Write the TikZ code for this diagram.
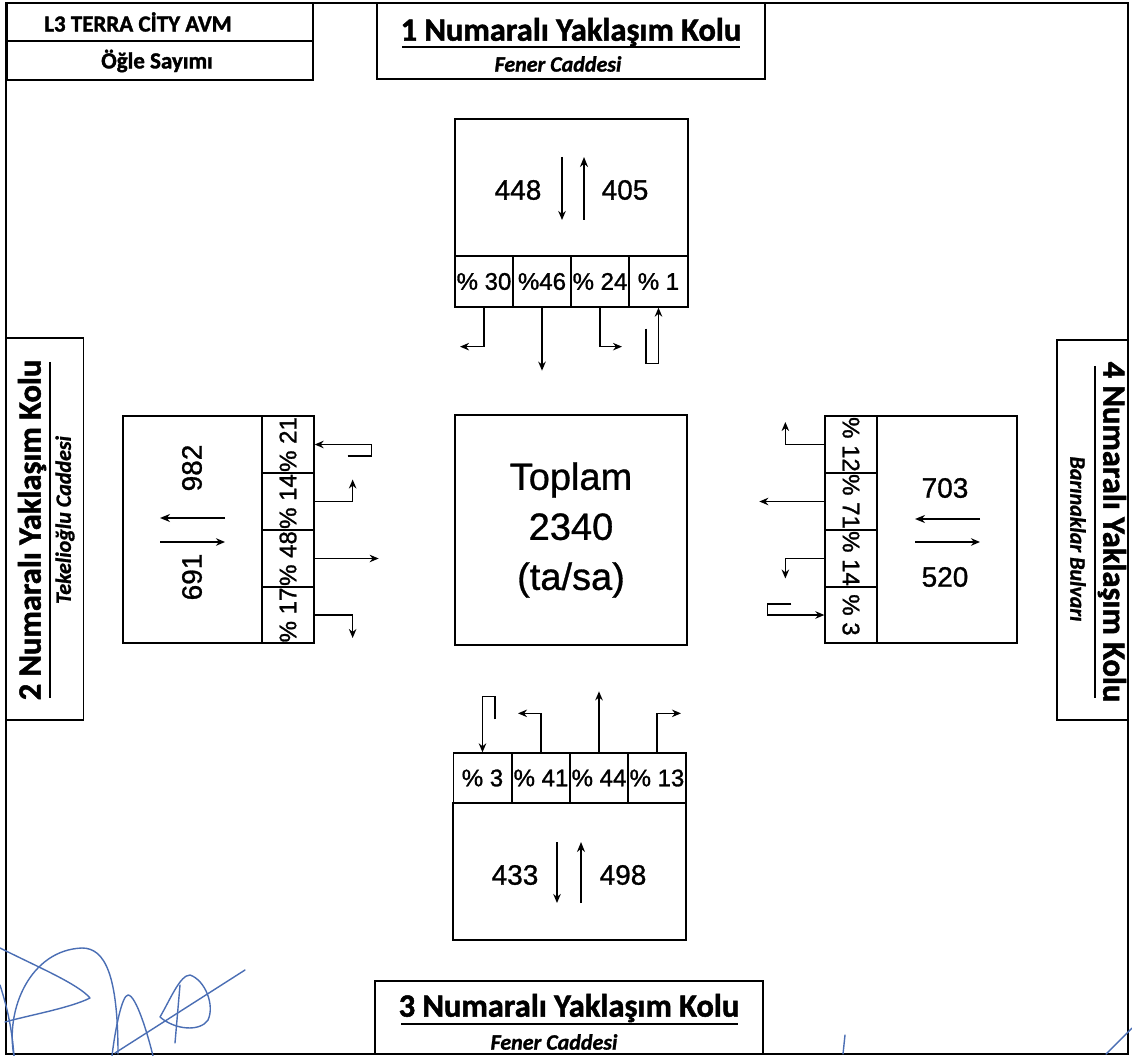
\documentclass[tikz,border=0pt]{standalone}
\usepackage{fontspec}
\setmainfont{Liberation Sans}
\newfontfamily\calib{Carlito}
\usetikzlibrary{arrows.meta}
\definecolor{sigblue}{HTML}{4A6EB4}
\begin{document}
\begin{tikzpicture}[x=1pt,y=-1pt,
  box/.style={draw, line width=1.3pt, inner sep=0pt},
  cellh/.style={box, minimum width=58pt, minimum height=51pt},
  cellv/.style={box, minimum width=52pt, minimum height=57pt},
  num/.style={inner sep=0pt, font=\fontsize{28}{30}\selectfont\addfontfeatures{FakeBold=1}},
  pct/.style={inner sep=0pt, font=\fontsize{24}{26}\selectfont\addfontfeatures{FakeBold=1.2}},
  head/.style={inner sep=0pt, font=\calib\bfseries\fontsize{32.5}{34}\selectfont\addfontfeatures{FakeBold=1.5}},
  sub/.style={inner sep=0pt, font=\calib\bfseries\itshape\fontsize{22}{24}\selectfont\addfontfeatures{FakeBold=1.2}},
  ttl/.style={inner sep=0pt, font=\calib\bfseries\fontsize{23}{25}\selectfont\addfontfeatures{FakeBold=1.5}},
  flow/.style={line width=1.6pt, -{Stealth[length=9pt,width=7.5pt]}},
  thinarr/.style={line width=1.5pt, -{Stealth[length=9pt,width=7.5pt]}},
  thickarr/.style={line width=2.6pt, -{Stealth[length=10pt,width=8pt]}},
  uline/.style={line width=1.2pt},
  sig/.style={draw=sigblue, line width=1.4pt, line cap=round, line join=round}
]
\useasboundingbox (0,0) rectangle (1132,1056);
\fill[white] (0,0) rectangle (1132,1056);
% outer frame
\draw[line width=1.3pt] (6,3) rectangle (1128,1054);

% title box
\node[box, minimum width=306pt, minimum height=38pt] (t1) at (160,22) {};
\node[box, minimum width=306pt, minimum height=39pt] (t2) at (160,60.5) {};
\node[ttl] (t1x) at (138,22) {L3 TERRA CİTY AVM};
\node[ttl] (t2x) at (157,61) {Öğle Sayımı};

% arm 1 label
\node[box, minimum width=388pt, minimum height=76pt] (k1) at (571,41) {};
\node[head] (k1t) at (571,32) {1 Numaralı Yaklaşım Kolu};
\draw[uline] (402,47) -- (740,47);
\node[sub] (k1s) at (558,64) {Fener Caddesi};

% arm 2 label
\node[box, minimum width=77pt, minimum height=382pt] (k2) at (45,529) {};
\node[head, rotate=90] (k2t) at (32,530) {2 Numaralı Yaklaşım Kolu};
\draw[uline] (50,362) -- (50,698);
\node[sub, rotate=90] (k2s) at (65,520) {Tekelioğlu Caddesi};

% arm 4 label
\node[box, minimum width=71pt, minimum height=380pt] (k4) at (1092.5,530) {};
\node[head, rotate=-90] (k4t) at (1112,532) {4 Numaralı Yaklaşım Kolu};
\draw[uline] (1095,366) -- (1095,698);
\node[sub, rotate=-90] (k4s) at (1078,539) {Barınaklar Bulvarı};

% arm 3 label
\node[box, minimum width=388pt, minimum height=73pt] (k3) at (569,1017.5) {};
\node[head] (k3t) at (569,1008) {3 Numaralı Yaklaşım Kolu};
\draw[uline] (401,1024) -- (738,1024);
\node[sub] (k3s) at (554,1042) {Fener Caddesi};

% centre
\node[box, minimum width=232pt, minimum height=230pt, align=center,
      font=\fontsize{38}{50}\selectfont\addfontfeatures{FakeBold=0.8}] (c) at (571,530) {Toplam\\2340\\(ta/sa)};

% ---- north approach
\node[box, minimum width=233pt, minimum height=137pt] (nb) at (571.5,187.5) {};
\node[cellh] (n1) at (484,281.5) {};
\node[cellh] (n2) at (542,281.5) {};
\node[cellh] (n3) at (600,281.5) {};
\node[cellh, minimum width=59pt] (n4) at (658.5,281.5) {};
\node[pct] (n1x) at (n1) {\% 30};
\node[pct] (n2x) at (n2) {\%46};
\node[pct] (n3x) at (n3) {\% 24};
\node[pct] (n4x) at (n4) {\% 1};
\node[num] (nin) at (518,190) {448};
\node[num] (nout) at (625,190) {405};
\draw[thinarr] (nb.center) ++(-9.5,-30.5) -- ++(0,63);
\draw[thickarr] (nb.center) ++(12.5,32.5) -- ++(0,-63);
\draw[flow] (n1.south) -- ++(0,39) -- ++(-24,0);
\draw[flow] (n2.south) -- ++(0,63);
\draw[flow] (n3.south) -- ++(0,39) -- ++(22,0);
\draw[flow] (n4.south) ++(-12.5,21) -- ++(0,35) -- ++(12.5,0) -- (n4.south);

% ---- west approach
\node[box, minimum width=139pt, minimum height=227pt] (wb) at (192.5,529.5) {};
\node[cellv] (w1) at (288,444.5) {};
\node[cellv] (w2) at (288,501.5) {};
\node[cellv] (w3) at (288,558.5) {};
\node[cellv, minimum height=56pt] (w4) at (288,615) {};
\node[pct, rotate=90] (w1x) at (w1) {\% 21};
\node[pct, rotate=90] (w2x) at (w2) {\% 14};
\node[pct, rotate=90] (w3x) at (w3) {\% 48};
\node[pct, rotate=90] (w4x) at (w4) {\% 17};
\node[num, rotate=90] (win) at (192,468) {982};
\node[num, rotate=90] (wout) at (192,577) {691};
\draw[thickarr] (wb.center) ++(32.5,-11.5) -- ++(-65,0);
\draw[thinarr] (wb.center) ++(-32.5,12.5) -- ++(65,0);
\draw[flow] (w1.east) ++(33,11.5) -- ++(24,0) -- ++(0,-11.5) -- (w1.east);
\draw[flow] (w2.east) -- ++(38,0) -- ++(0,-22);
\draw[flow] (w3.east) -- ++(64,0);
\draw[flow] (w4.east) -- ++(38,0) -- ++(0,23);

% ---- east approach
\node[box, minimum width=140pt, minimum height=227pt] (eb) at (947,529.5) {};
\node[cellv] (e1) at (851,444.5) {};
\node[cellv] (e2) at (851,501.5) {};
\node[cellv] (e3) at (851,558.5) {};
\node[cellv, minimum height=56pt] (e4) at (851,615) {};
\node[pct, rotate=-90] (e1x) at (e1) {\% 12};
\node[pct, rotate=-90] (e2x) at (e2) {\% 71};
\node[pct, rotate=-90] (e3x) at (e3) {\% 14};
\node[pct, rotate=-90] (e4x) at (e4) {\% 3};
\node[num] (ein) at (945,488) {703};
\node[num] (eout) at (945,577) {520};
\draw[thickarr] (eb.center) ++(33,-10.5) -- ++(-65,0);
\draw[thinarr] (eb.center) ++(-32,12.5) -- ++(65,0);
\draw[flow] (e1.west) -- ++(-39,0) -- ++(0,-22.5);
\draw[flow] (e2.west) -- ++(-65,0);
\draw[flow] (e3.west) -- ++(-39,0) -- ++(0,20);
\draw[flow] (e4.west) ++(-33,-11) -- ++(-24,0) -- ++(0,11) -- (e4.west);

% ---- south approach
\node[box, minimum width=233pt, minimum height=137pt] (sb) at (569.5,871.5) {};
\node[cellh, minimum height=50pt] (s1) at (482.5,778) {};
\node[cellh, minimum height=50pt] (s2) at (541,778) {};
\node[cellh, minimum height=50pt] (s3) at (599,778) {};
\node[cellh, minimum height=50pt] (s4) at (657,778) {};
\node[pct] (s1x) at (s1) {\% 3};
\node[pct] (s2x) at (s2) {\% 41};
\node[pct] (s3x) at (s3) {\% 44};
\node[pct] (s4x) at (s4) {\% 13};
\node[num] (sin) at (515,875) {433};
\node[num] (sout) at (623,875) {498};
\draw[thinarr] (sb.center) ++(-12.5,-29.5) -- ++(0,61);
\draw[thickarr] (sb.center) ++(11.5,31.5) -- ++(0,-61);
\draw[flow] (s1.north) ++(12.5,-33) -- ++(0,-23) -- ++(-12.5,0) -- (s1.north);
\draw[flow] (s2.north) -- ++(0,-39) -- ++(-23,0);
\draw[flow] (s3.north) -- ++(0,-61);
\draw[flow] (s4.north) -- ++(0,-39) -- ++(24,0);

% ---- signatures
\path[sig] (0,948) .. controls (40,968) and (78,984) .. (90,998) .. controls (70,1008) and (30,1015) .. (5,1022);
\path[sig] (14,1056) .. controls (5,1010) and (30,950) .. (82,948) .. controls (105,948) and (118,975) .. (118,1054);
\path[sig] (0,985) .. controls (8,1010) and (12,1030) .. (14,1056);
\path[sig] (112,1056) .. controls (115,1030) and (122,995) .. (128,995) .. controls (136,995) and (148,1035) .. (153,1056);
\path[sig] (115,1053) -- (245,970);
\path[sig] (175,1043) -- (180,985);
\path[sig] (160,1017) .. controls (170,1000) and (180,975) .. (190,975) .. controls (205,980) and (215,1005) .. (208,1020) .. controls (200,1032) and (175,1030) .. (160,1017);
\path[sig] (845,1035) -- (843,1054);
\path[sig] (1132,1028) -- (1106,1054);
\end{tikzpicture}
\end{document}
